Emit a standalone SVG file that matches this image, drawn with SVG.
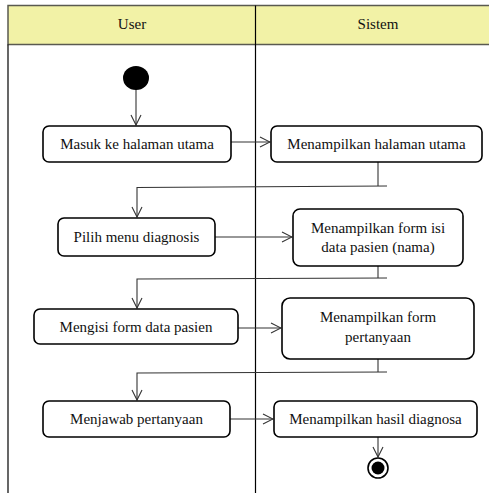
<svg xmlns="http://www.w3.org/2000/svg" width="489" height="493" viewBox="0 0 489 493">
<style>
.lane{fill:none;stroke:#000;stroke-width:1.2}
.hdr{fill:#F2F2A6;stroke:#5a5a50;stroke-width:1.5}
.box{fill:#fff;stroke:#000;stroke-width:1.6}
.t{font-family:"Liberation Serif","Times New Roman",Times,serif;font-size:15px;fill:#111;text-anchor:middle}
.c{fill:none;stroke:#333;stroke-width:1.1}
.ca{fill:none;stroke:#333;stroke-width:1.1;marker-end:url(#arr)}
</style>
<defs>
<marker id="arr" viewBox="0 0 12 12" refX="11" refY="6" markerWidth="12" markerHeight="12" markerUnits="userSpaceOnUse" orient="auto">
<path d="M1,1 L11,6 L1,11" fill="none" stroke="#333" stroke-width="1.1"/>
</marker>
</defs>
<g id="swimlanes">
<rect x="8" y="5.5" width="490" height="39" class="hdr"/>
<line x1="8" y1="44.5" x2="8" y2="493" class="lane"/>
<line x1="255.5" y1="5.5" x2="255.5" y2="493" class="lane"/>
<text x="132" y="29" class="t">User</text>
<text x="378" y="29" class="t">Sistem</text>
</g>
<g id="connectors">
<line x1="136" y1="88" x2="136" y2="125" class="ca"/>
<line x1="231" y1="142" x2="270" y2="142" class="ca"/>
<polyline points="378,162 378,186" class="c"/>
<polyline points="387,186 137,187.5 137,217" class="ca"/>
<line x1="215" y1="237" x2="292" y2="237" class="ca"/>
<polyline points="378,266 378,278" class="c"/>
<polyline points="387,278 137,279 137,308" class="ca"/>
<line x1="238" y1="328" x2="281" y2="328" class="ca"/>
<polyline points="378,359 378,372" class="c"/>
<polyline points="387,372 137,373 137,400" class="ca"/>
<line x1="230" y1="419" x2="273" y2="419" class="ca"/>
<line x1="378" y1="437" x2="378" y2="457" class="ca"/>
</g>
<g id="start"><ellipse cx="136" cy="78" rx="13" ry="12" fill="#000"/></g>
<g id="n1"><rect x="43" y="126" width="188" height="36" rx="6" class="box"/><text x="137" y="149" class="t">Masuk ke halaman utama</text></g>
<g id="n2"><rect x="271" y="126" width="211" height="36" rx="6" class="box"/><text x="376.5" y="149" class="t">Menampilkan halaman utama</text></g>
<g id="n3"><rect x="58" y="218" width="157" height="38" rx="6" class="box"/><text x="136.5" y="242" class="t">Pilih menu diagnosis</text></g>
<g id="n4"><rect x="293" y="209" width="170" height="57" rx="7" class="box"/><text x="378" y="233" class="t">Menampilkan form isi</text><text x="378" y="252" class="t">data pasien (nama)</text></g>
<g id="n5"><rect x="34" y="309" width="204" height="35" rx="6" class="box"/><text x="136" y="332" class="t">Mengisi form data pasien</text></g>
<g id="n6"><rect x="282" y="298" width="192" height="61" rx="8" class="box"/><text x="378" y="322" class="t">Menampilkan form</text><text x="378" y="342" class="t">pertanyaan</text></g>
<g id="n7"><rect x="43" y="401" width="187" height="36" rx="6" class="box"/><text x="136.5" y="424" class="t">Menjawab pertanyaan</text></g>
<g id="n8"><rect x="274" y="401" width="203" height="36" rx="6" class="box"/><text x="375.5" y="424" class="t">Menampilkan hasil diagnosa</text></g>
<g id="end"><circle cx="378" cy="468" r="10" fill="#fff" stroke="#000" stroke-width="1.6"/><circle cx="378" cy="468" r="6.5" fill="#000"/></g>
</svg>
